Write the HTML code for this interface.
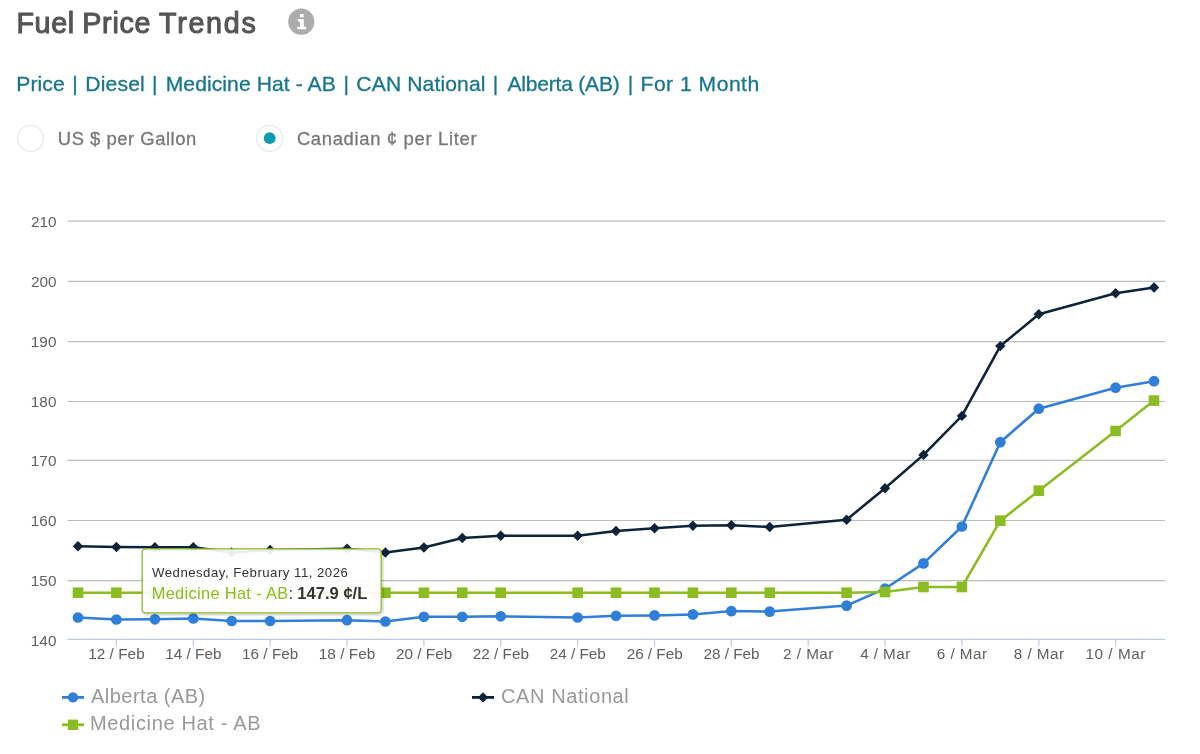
<!DOCTYPE html>
<html lang="en"><head><meta charset="utf-8"><title>Fuel Price Trends</title>
<style>
html,body{margin:0;padding:0;background:#fff;}
body{width:1200px;height:754px;position:relative;overflow:hidden;font-family:"Liberation Sans",sans-serif;}
#chart{position:absolute;left:0;top:0;display:block;}
#chart text{font-family:"Liberation Sans",sans-serif;white-space:pre;}
.title{font-size:28.7px;fill:#555;stroke:#555;stroke-width:1.05px;stroke-linejoin:round;}
.sub{font-size:21.1px;fill:#17768a;stroke:#17768a;stroke-width:0.3px;}
.rl{font-size:18.4px;fill:#777;stroke:#777;stroke-width:0.3px;}
.ax{font-size:15.3px;fill:#606060;}
.lg{font-size:20px;fill:#999;}
.t1{font-size:13.2px;fill:#333;}
.t2{font-size:16.4px;fill:#333;}
.t2b{font-size:16.5px;fill:#333;font-weight:bold;}
</style></head>
<body>
<svg id="chart" width="1200" height="754" viewBox="0 0 1200 754">
<text class="title" y="32.8"><tspan x="16.5" textLength="57.57" lengthAdjust="spacing">Fuel</tspan> <tspan x="82.2" textLength="68.39" lengthAdjust="spacing">Price</tspan> <tspan x="159.03" textLength="96.69" lengthAdjust="spacing">Trends</tspan></text>
<g id="info"><circle cx="301.3" cy="21.7" r="13.1" fill="#acacac"/><path fill="#fff" d="M300 14.1 h3.8 v3.1 h-3.8z M297.9 19.1 h5.9 v7.6 h2.3 v2.5 h-8.8 v-2.5 h2.7 v-5.1 h-2.1z"/></g>
<text class="sub" y="90.7"><tspan x="16.31" textLength="48.41" lengthAdjust="spacing">Price</tspan> <tspan x="72.2">|</tspan> <tspan x="85.31" textLength="59.44" lengthAdjust="spacing">Diesel</tspan> <tspan x="151.9">|</tspan> <tspan x="165.71" textLength="170.02" lengthAdjust="spacing">Medicine Hat - AB</tspan> <tspan x="343.5">|</tspan> <tspan x="356.34" textLength="129.1" lengthAdjust="spacing">CAN National</tspan> <tspan x="492.8">|</tspan> <tspan x="507.5" textLength="112.3" lengthAdjust="spacing">Alberta (AB)</tspan> <tspan x="627.7">|</tspan> <tspan x="640.51" textLength="118.69" lengthAdjust="spacing">For 1 Month</tspan></text>
<circle cx="30.5" cy="138.3" r="13" fill="#fff" stroke="#e9e9e9" stroke-width="1.3"/>
<circle cx="269.6" cy="138.3" r="13" fill="#fff" stroke="#e9e9e9" stroke-width="1.3"/><circle cx="269.7" cy="138.2" r="5.9" fill="#0b9bb1"/>
<text class="rl" x="57.82" y="144.9" textLength="138.37" lengthAdjust="spacing">US $ per Gallon</text>
<text class="rl" x="296.88" y="144.9" textLength="179.63" lengthAdjust="spacing">Canadian ¢ per Liter</text>
<path d="M67.5 221.2 H1165" stroke="#bdbdbd" stroke-width="1.2" fill="none"/>
<path d="M67.5 281.3 H1165" stroke="#bdbdbd" stroke-width="1.2" fill="none"/>
<path d="M67.5 341.7 H1165" stroke="#bdbdbd" stroke-width="1.2" fill="none"/>
<path d="M67.5 401.5 H1165" stroke="#bdbdbd" stroke-width="1.2" fill="none"/>
<path d="M67.5 460.4 H1165" stroke="#bdbdbd" stroke-width="1.2" fill="none"/>
<path d="M67.5 520.5 H1165" stroke="#bdbdbd" stroke-width="1.2" fill="none"/>
<path d="M67.5 580.6 H1165" stroke="#bdbdbd" stroke-width="1.2" fill="none"/>
<path d="M67.5 639.3 H1165" stroke="#bccde0" stroke-width="1.2" fill="none"/>
<path d="M116.4 639.3 V646.3" stroke="#bccde0" stroke-width="1.2" fill="none"/>
<path d="M193.3 639.3 V646.3" stroke="#bccde0" stroke-width="1.2" fill="none"/>
<path d="M270.1 639.3 V646.3" stroke="#bccde0" stroke-width="1.2" fill="none"/>
<path d="M347.0 639.3 V646.3" stroke="#bccde0" stroke-width="1.2" fill="none"/>
<path d="M423.9 639.3 V646.3" stroke="#bccde0" stroke-width="1.2" fill="none"/>
<path d="M500.7 639.3 V646.3" stroke="#bccde0" stroke-width="1.2" fill="none"/>
<path d="M577.6 639.3 V646.3" stroke="#bccde0" stroke-width="1.2" fill="none"/>
<path d="M654.5 639.3 V646.3" stroke="#bccde0" stroke-width="1.2" fill="none"/>
<path d="M731.3 639.3 V646.3" stroke="#bccde0" stroke-width="1.2" fill="none"/>
<path d="M808.2 639.3 V646.3" stroke="#bccde0" stroke-width="1.2" fill="none"/>
<path d="M885.0 639.3 V646.3" stroke="#bccde0" stroke-width="1.2" fill="none"/>
<path d="M961.9 639.3 V646.3" stroke="#bccde0" stroke-width="1.2" fill="none"/>
<path d="M1038.8 639.3 V646.3" stroke="#bccde0" stroke-width="1.2" fill="none"/>
<path d="M1115.6 639.3 V646.3" stroke="#bccde0" stroke-width="1.2" fill="none"/>
<text class="ax" x="88.15" y="658.8" textLength="56.54" lengthAdjust="spacing">12 / Feb</text>
<text class="ax" x="165.15" y="658.8" textLength="56.44" lengthAdjust="spacing">14 / Feb</text>
<text class="ax" x="241.95" y="658.8" textLength="56.44" lengthAdjust="spacing">16 / Feb</text>
<text class="ax" x="318.75" y="658.8" textLength="56.54" lengthAdjust="spacing">18 / Feb</text>
<text class="ax" x="396.04" y="658.8" textLength="56.16" lengthAdjust="spacing">20 / Feb</text>
<text class="ax" x="472.84" y="658.8" textLength="56.16" lengthAdjust="spacing">22 / Feb</text>
<text class="ax" x="549.74" y="658.8" textLength="56.06" lengthAdjust="spacing">24 / Feb</text>
<text class="ax" x="626.64" y="658.8" textLength="56.06" lengthAdjust="spacing">26 / Feb</text>
<text class="ax" x="703.44" y="658.8" textLength="56.06" lengthAdjust="spacing">28 / Feb</text>
<text class="ax" x="783.04" y="658.8" textLength="50.42" lengthAdjust="spacing">2 / Mar</text>
<text class="ax" x="860.29" y="658.8" textLength="49.96" lengthAdjust="spacing">4 / Mar</text>
<text class="ax" x="936.74" y="658.8" textLength="50.42" lengthAdjust="spacing">6 / Mar</text>
<text class="ax" x="1013.71" y="658.8" textLength="50.35" lengthAdjust="spacing">8 / Mar</text>
<text class="ax" x="1085.55" y="658.8" textLength="59.72" lengthAdjust="spacing">10 / Mar</text>
<text class="ax" x="31.04" y="226.7" textLength="25.55" lengthAdjust="spacing">210</text>
<text class="ax" x="31.04" y="286.8" textLength="25.55" lengthAdjust="spacing">200</text>
<text class="ax" x="30.65" y="347.2" textLength="25.94" lengthAdjust="spacing">190</text>
<text class="ax" x="30.65" y="407.0" textLength="25.94" lengthAdjust="spacing">180</text>
<text class="ax" x="30.65" y="465.9" textLength="25.94" lengthAdjust="spacing">170</text>
<text class="ax" x="30.65" y="526.0" textLength="25.94" lengthAdjust="spacing">160</text>
<text class="ax" x="30.65" y="586.1" textLength="25.94" lengthAdjust="spacing">150</text>
<text class="ax" x="30.65" y="646.1" textLength="25.94" lengthAdjust="spacing">140</text>
<path d="M78.0 617.5 L116.4 619.5 L154.9 619.3 L193.3 618.5 L231.7 621 L270.1 621 L347.0 620.2 L385.4 621.5 L423.9 616.8 L462.3 616.8 L500.7 616.3 L577.6 617.5 L616.0 615.8 L654.5 615.4 L692.9 614.4 L731.3 611.1 L769.7 611.6 L846.6 605.6 L885.0 588.7 L923.5 563.4 L961.9 526.5 L1000.3 442.2 L1038.8 408.7 L1115.6 387.7 L1154.0 381.2" stroke="#2f7ed8" stroke-width="2.55" fill="none" stroke-linejoin="round" stroke-linecap="round"/>
<circle cx="78.0" cy="617.5" r="5.35" fill="#2f7ed8"/><circle cx="116.4" cy="619.5" r="5.35" fill="#2f7ed8"/><circle cx="154.9" cy="619.3" r="5.35" fill="#2f7ed8"/><circle cx="193.3" cy="618.5" r="5.35" fill="#2f7ed8"/><circle cx="231.7" cy="621" r="5.35" fill="#2f7ed8"/><circle cx="270.1" cy="621" r="5.35" fill="#2f7ed8"/><circle cx="347.0" cy="620.2" r="5.35" fill="#2f7ed8"/><circle cx="385.4" cy="621.5" r="5.35" fill="#2f7ed8"/><circle cx="423.9" cy="616.8" r="5.35" fill="#2f7ed8"/><circle cx="462.3" cy="616.8" r="5.35" fill="#2f7ed8"/><circle cx="500.7" cy="616.3" r="5.35" fill="#2f7ed8"/><circle cx="577.6" cy="617.5" r="5.35" fill="#2f7ed8"/><circle cx="616.0" cy="615.8" r="5.35" fill="#2f7ed8"/><circle cx="654.5" cy="615.4" r="5.35" fill="#2f7ed8"/><circle cx="692.9" cy="614.4" r="5.35" fill="#2f7ed8"/><circle cx="731.3" cy="611.1" r="5.35" fill="#2f7ed8"/><circle cx="769.7" cy="611.6" r="5.35" fill="#2f7ed8"/><circle cx="846.6" cy="605.6" r="5.35" fill="#2f7ed8"/><circle cx="885.0" cy="588.7" r="5.35" fill="#2f7ed8"/><circle cx="923.5" cy="563.4" r="5.35" fill="#2f7ed8"/><circle cx="961.9" cy="526.5" r="5.35" fill="#2f7ed8"/><circle cx="1000.3" cy="442.2" r="5.35" fill="#2f7ed8"/><circle cx="1038.8" cy="408.7" r="5.35" fill="#2f7ed8"/><circle cx="1115.6" cy="387.7" r="5.35" fill="#2f7ed8"/><circle cx="1154.0" cy="381.2" r="5.35" fill="#2f7ed8"/>
<path d="M78.0 546.2 L116.4 547 L154.9 547.3 L193.3 547.3 L231.7 552.4 L270.1 550.0 L347.0 548.7 L385.4 552.5 L423.9 547.5 L462.3 538 L500.7 535.8 L577.6 535.8 L616.0 531 L654.5 528.3 L692.9 525.7 L731.3 525.2 L769.7 527 L846.6 519.7 L885.0 488.3 L923.5 454.9 L961.9 415.9 L1000.3 346.1 L1038.8 314.2 L1115.6 293.2 L1154.0 287.5" stroke="#0d233a" stroke-width="2.55" fill="none" stroke-linejoin="round" stroke-linecap="round"/>
<path d="M78.0 541.0 L83.2 546.2 L78.0 551.4 L72.8 546.2Z" fill="#0d233a"/><path d="M116.4 541.8 L121.6 547 L116.4 552.2 L111.2 547Z" fill="#0d233a"/><path d="M154.9 542.1 L160.1 547.3 L154.9 552.5 L149.7 547.3Z" fill="#0d233a"/><path d="M193.3 542.1 L198.5 547.3 L193.3 552.5 L188.1 547.3Z" fill="#0d233a"/><path d="M231.7 547.2 L236.9 552.4 L231.7 557.6 L226.5 552.4Z" fill="#0d233a"/><path d="M270.1 544.8 L275.3 550.0 L270.1 555.2 L264.9 550.0Z" fill="#0d233a"/><path d="M347.0 543.5 L352.2 548.7 L347.0 553.9 L341.8 548.7Z" fill="#0d233a"/><path d="M385.4 547.3 L390.6 552.5 L385.4 557.7 L380.2 552.5Z" fill="#0d233a"/><path d="M423.9 542.3 L429.1 547.5 L423.9 552.7 L418.7 547.5Z" fill="#0d233a"/><path d="M462.3 532.8 L467.5 538 L462.3 543.2 L457.1 538Z" fill="#0d233a"/><path d="M500.7 530.6 L505.9 535.8 L500.7 541.0 L495.5 535.8Z" fill="#0d233a"/><path d="M577.6 530.6 L582.8 535.8 L577.6 541.0 L572.4 535.8Z" fill="#0d233a"/><path d="M616.0 525.8 L621.2 531 L616.0 536.2 L610.8 531Z" fill="#0d233a"/><path d="M654.5 523.1 L659.7 528.3 L654.5 533.5 L649.3 528.3Z" fill="#0d233a"/><path d="M692.9 520.5 L698.1 525.7 L692.9 530.9 L687.7 525.7Z" fill="#0d233a"/><path d="M731.3 520.0 L736.5 525.2 L731.3 530.4 L726.1 525.2Z" fill="#0d233a"/><path d="M769.7 521.8 L774.9 527 L769.7 532.2 L764.5 527Z" fill="#0d233a"/><path d="M846.6 514.5 L851.8 519.7 L846.6 524.9 L841.4 519.7Z" fill="#0d233a"/><path d="M885.0 483.1 L890.2 488.3 L885.0 493.5 L879.8 488.3Z" fill="#0d233a"/><path d="M923.5 449.7 L928.7 454.9 L923.5 460.1 L918.3 454.9Z" fill="#0d233a"/><path d="M961.9 410.7 L967.1 415.9 L961.9 421.1 L956.7 415.9Z" fill="#0d233a"/><path d="M1000.3 340.9 L1005.5 346.1 L1000.3 351.3 L995.1 346.1Z" fill="#0d233a"/><path d="M1038.8 309.0 L1044.0 314.2 L1038.8 319.4 L1033.6 314.2Z" fill="#0d233a"/><path d="M1115.6 288.0 L1120.8 293.2 L1115.6 298.4 L1110.4 293.2Z" fill="#0d233a"/><path d="M1154.0 282.3 L1159.2 287.5 L1154.0 292.7 L1148.8 287.5Z" fill="#0d233a"/>
<path d="M78.0 592.7 L116.4 592.7 L154.9 592.7 L193.3 592.7 L231.7 592.7 L270.1 592.7 L347.0 592.7 L385.4 592.7 L423.9 592.7 L462.3 592.7 L500.7 592.7 L577.6 592.7 L616.0 592.7 L654.5 592.7 L692.9 592.7 L731.3 592.7 L769.7 592.7 L846.6 592.7 L885.0 592 L923.5 587 L961.9 587 L1000.3 520.7 L1038.8 490.7 L1115.6 431 L1154.0 400.6" stroke="#8bbc21" stroke-width="2.55" fill="none" stroke-linejoin="round" stroke-linecap="round"/>
<rect x="72.7" y="587.4" width="10.6" height="10.6" fill="#8bbc21"/><rect x="111.1" y="587.4" width="10.6" height="10.6" fill="#8bbc21"/><rect x="149.6" y="587.4" width="10.6" height="10.6" fill="#8bbc21"/><rect x="188.0" y="587.4" width="10.6" height="10.6" fill="#8bbc21"/><rect x="226.4" y="587.4" width="10.6" height="10.6" fill="#8bbc21"/><rect x="264.8" y="587.4" width="10.6" height="10.6" fill="#8bbc21"/><rect x="341.7" y="587.4" width="10.6" height="10.6" fill="#8bbc21"/><rect x="380.1" y="587.4" width="10.6" height="10.6" fill="#8bbc21"/><rect x="418.6" y="587.4" width="10.6" height="10.6" fill="#8bbc21"/><rect x="457.0" y="587.4" width="10.6" height="10.6" fill="#8bbc21"/><rect x="495.4" y="587.4" width="10.6" height="10.6" fill="#8bbc21"/><rect x="572.3" y="587.4" width="10.6" height="10.6" fill="#8bbc21"/><rect x="610.7" y="587.4" width="10.6" height="10.6" fill="#8bbc21"/><rect x="649.2" y="587.4" width="10.6" height="10.6" fill="#8bbc21"/><rect x="687.6" y="587.4" width="10.6" height="10.6" fill="#8bbc21"/><rect x="726.0" y="587.4" width="10.6" height="10.6" fill="#8bbc21"/><rect x="764.4" y="587.4" width="10.6" height="10.6" fill="#8bbc21"/><rect x="841.3" y="587.4" width="10.6" height="10.6" fill="#8bbc21"/><rect x="879.7" y="586.7" width="10.6" height="10.6" fill="#8bbc21"/><rect x="918.2" y="581.7" width="10.6" height="10.6" fill="#8bbc21"/><rect x="956.6" y="581.7" width="10.6" height="10.6" fill="#8bbc21"/><rect x="995.0" y="515.4" width="10.6" height="10.6" fill="#8bbc21"/><rect x="1033.5" y="485.4" width="10.6" height="10.6" fill="#8bbc21"/><rect x="1110.3" y="425.7" width="10.6" height="10.6" fill="#8bbc21"/><rect x="1148.7" y="395.3" width="10.6" height="10.6" fill="#8bbc21"/>
<path d="M62 697.4 H84" stroke="#2f7ed8" stroke-width="2.8"/><circle cx="73" cy="697.4" r="5.2" fill="#2f7ed8"/>
<path d="M472 697.4 H494" stroke="#0d233a" stroke-width="2.8"/><path d="M483 692.2 L488.2 697.4 L483 702.6 L477.8 697.4Z" fill="#0d233a"/>
<path d="M62 724.8 H84" stroke="#8bbc21" stroke-width="2.8"/><rect x="67.8" y="719.5999999999999" width="10.4" height="10.4" fill="#8bbc21"/>
<text class="lg" x="91.0" y="702.8" textLength="114.23" lengthAdjust="spacing">Alberta (AB)</text>
<text class="lg" x="501.0" y="702.8" textLength="127.77" lengthAdjust="spacing">CAN National</text>
<text class="lg" x="90.0" y="730.3" textLength="170.47" lengthAdjust="spacing">Medicine Hat - AB</text>
<g class="tt">
<rect x="143.4" y="550.1999999999999" width="239.1" height="64.0" rx="3.6" fill="none" stroke="#000" stroke-opacity="0.05" stroke-width="4.2"/>
<rect x="143.4" y="550.1999999999999" width="239.1" height="64.0" rx="3.6" fill="none" stroke="#000" stroke-opacity="0.08" stroke-width="2.4"/>
<rect x="142.1" y="548.9" width="239.1" height="64.0" rx="3.6" fill="#fff" fill-opacity="0.92" stroke="#8bbc21" stroke-width="1.3"/>
<text class="t1" x="152.03" y="576.7" textLength="195.82" lengthAdjust="spacing">Wednesday, February 11, 2026</text>
<text class="t2" y="599.2"><tspan x="151.69" style="fill:#8bbc21" textLength="136.39" lengthAdjust="spacing">Medicine Hat - AB</tspan> <tspan x="288.42">:</tspan> <tspan x="297.31" class="t2b" textLength="69.99" lengthAdjust="spacing">147.9 ¢/L</tspan></text>
</g>
</svg>
</body></html>
